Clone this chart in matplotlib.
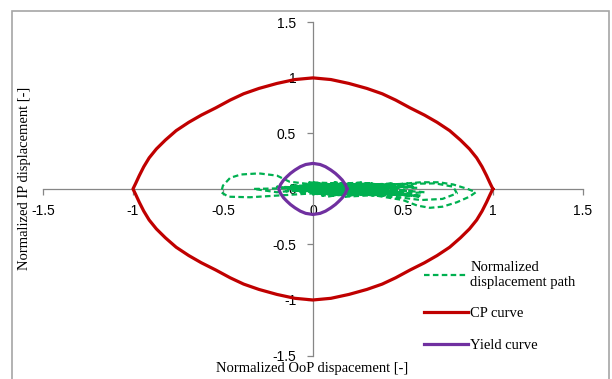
import numpy as np
import matplotlib
matplotlib.use("Agg")
import matplotlib.pyplot as plt
from matplotlib.patches import Rectangle

# CP curve, one quarter (x>=0, y>=0), mirrored to close the curve
cp_x = [1.0, 0.985, 0.965, 0.94, 0.91, 0.87, 0.82, 0.76, 0.69, 0.62, 0.54, 0.46,
        0.385, 0.3, 0.2, 0.1, 0.0]
cp_y = [0.0, 0.05, 0.12, 0.2, 0.28, 0.36, 0.44, 0.525, 0.6, 0.665, 0.73, 0.8,
        0.857, 0.905, 0.95, 0.985, 1.0]

# yield curve, one quarter
yl_x = [0.19, 0.18, 0.163, 0.145, 0.125, 0.1, 0.07, 0.04, 0.0]
yl_y = [0.0, 0.04, 0.08, 0.11, 0.14, 0.17, 0.2, 0.22, 0.23]

# normalized displacement path
path_x = [0.0, 0.15, -0.05, 0.25, -0.1, 0.3, 0.02, 0.38, -0.08, 0.42, 0.05, 0.48,
          -0.12, 0.35, 0.1, 0.55, 0.0, 0.45, -0.15, 0.3, 0.05, 0.5, -0.05, 0.4,
          0.12, 0.58, 0.3, 0.0, -0.13, -0.2, -0.3, -0.4, -0.46, -0.5, -0.51, -0.47,
          -0.35, -0.2, 0.0, 0.25, 0.45, 0.6, 0.7, 0.78, 0.86, 0.905, 0.87, 0.8,
          0.72, 0.65, 0.58, 0.5, 0.35, 0.15, -0.1, 0.2, 0.5, 0.68, 0.78, 0.8,
          0.72, 0.6, 0.45, 0.2, -0.05, -0.33, -0.2, 0.1, 0.4, -0.05, 0.35, 0.0,
          0.52, -0.1, 0.3, 0.08, 0.45, -0.02, 0.6, 0.2, 0.4, 0.0, 0.28, -0.06,
          0.5, 0.1, 0.35, -0.2, 0.25, 0.05, 0.55, -0.08, 0.42, 0.15, 0.6, -0.12,
          0.33, 0.02, 0.47, -0.04, 0.38, 0.1, 0.56, -0.15, 0.22, 0.07, 0.5, -0.02,
          0.44, 0.18, 0.62, 0.0, 0.36, -0.1, 0.3, 0.12, 0.52, -0.06, 0.4]
path_y = [0.0, 0.03, -0.02, 0.04, 0.01, -0.03, 0.05, 0.0, -0.03, 0.04, -0.05, 0.02,
          0.03, -0.05, 0.05, -0.02, -0.04, 0.05, 0.0, 0.03, -0.06, -0.04, 0.04, -0.02,
          0.02, 0.01, 0.05, 0.04, 0.065, 0.12, 0.14, 0.13, 0.1, 0.03, -0.03, -0.07,
          -0.075, -0.06, -0.04, -0.02, 0.04, 0.06, 0.06, 0.04, 0.0, -0.03, -0.07, -0.12,
          -0.16, -0.17, -0.15, -0.1, -0.06, -0.03, 0.0, 0.03, 0.045, 0.05, 0.02, -0.04,
          -0.09, -0.1, -0.07, -0.04, 0.01, 0.0, -0.03, 0.02, -0.06, -0.01, 0.04, 0.03,
          -0.05, -0.02, 0.05, -0.07, 0.03, 0.06, -0.06, -0.04, 0.02, -0.05, 0.06, 0.02,
          -0.03, 0.04, -0.01, 0.02, -0.05, 0.05, -0.06, 0.01, -0.04, 0.04, -0.07, 0.02,
          0.05, -0.03, -0.05, 0.03, 0.0, -0.06, 0.03, -0.02, 0.04, -0.04, -0.05, 0.05,
          0.02, -0.07, -0.03, 0.05, -0.02, 0.03, -0.04, 0.06, -0.05, 0.01, 0.03]

ticks = [-1.5, -1, -0.5, 0, 0.5, 1, 1.5]
tick_labels = ["-1.5", "-1", "-0.5", "0", "0.5", "1", "1.5"]


def close_quarter(qx, qy):
    qx = np.array(qx)
    qy = np.array(qy)
    x = np.concatenate([qx, -qx[::-1], -qx, qx[::-1]])
    y = np.concatenate([qy, qy[::-1], -qy, -qy[::-1]])
    return x, y


fig = plt.figure(figsize=(6.12, 3.79), dpi=100)
ax = fig.add_axes([0.0703, 0.062, 0.882, 0.879])

gx, gy = np.array(path_x), np.array(path_y)
ax.plot(gx, gy, color="#00B050", lw=1.6, dashes=(2.5, 1.5),
        label="Normalized\ndisplacement path", zorder=3)
cx, cy = close_quarter(cp_x, cp_y)
ax.plot(cx, cy, color="#C00000", lw=2.3, label="CP curve", zorder=4,
        solid_joinstyle="round")
yx, yy = close_quarter(yl_x, yl_y)
ax.plot(yx, yy, color="#7030A0", lw=2.3, label="Yield curve", zorder=4,
        solid_joinstyle="round")

ax.set_xlim(-1.5, 1.5)
ax.set_ylim(-1.5, 1.5)
ax.set_xticks(ticks)
ax.set_xticklabels(tick_labels)
ax.set_yticks(ticks)
ax.set_yticklabels(tick_labels)

for side in ["top", "right"]:
    ax.spines[side].set_visible(False)
for side in ["left", "bottom"]:
    ax.spines[side].set_position(("data", 0))
    ax.spines[side].set_color("#868686")
    ax.spines[side].set_linewidth(0.9)
ax.patch.set_alpha(0)

ax.tick_params(axis="both", direction="out", length=4, width=0.9,
               color="#868686", labelsize=10)
ax.tick_params(axis="x", pad=7)
ax.tick_params(axis="y", pad=8)
for lab in ax.get_xticklabels() + ax.get_yticklabels():
    lab.set_fontfamily("Liberation Sans")

fig.text(0.51, 0.028, "Normalized OoP dispacement [-]", ha="center", va="center",
         family="Liberation Serif", fontsize=10.5)
fig.text(0.04, 0.53, "Normalized IP displacement [-]", ha="center", va="center",
         rotation=90, family="Liberation Serif", fontsize=10.5)

leg = ax.legend(loc="upper left", bbox_to_anchor=(418 / 612, 1 - 255 / 379),
                bbox_transform=fig.transFigure, frameon=False,
                prop={"family": "Liberation Serif", "size": 10.5},
                handlelength=3.0, handletextpad=0.2, labelspacing=1.25,
                borderaxespad=0)

fig.patches.append(Rectangle((12 / 612, -0.02), 597 / 612, 1.0 - 11 / 379 + 0.02,
                             transform=fig.transFigure, fill=False,
                             edgecolor="#A6A6A6", lw=1.2))

fig.savefig("out.png", dpi=100)
